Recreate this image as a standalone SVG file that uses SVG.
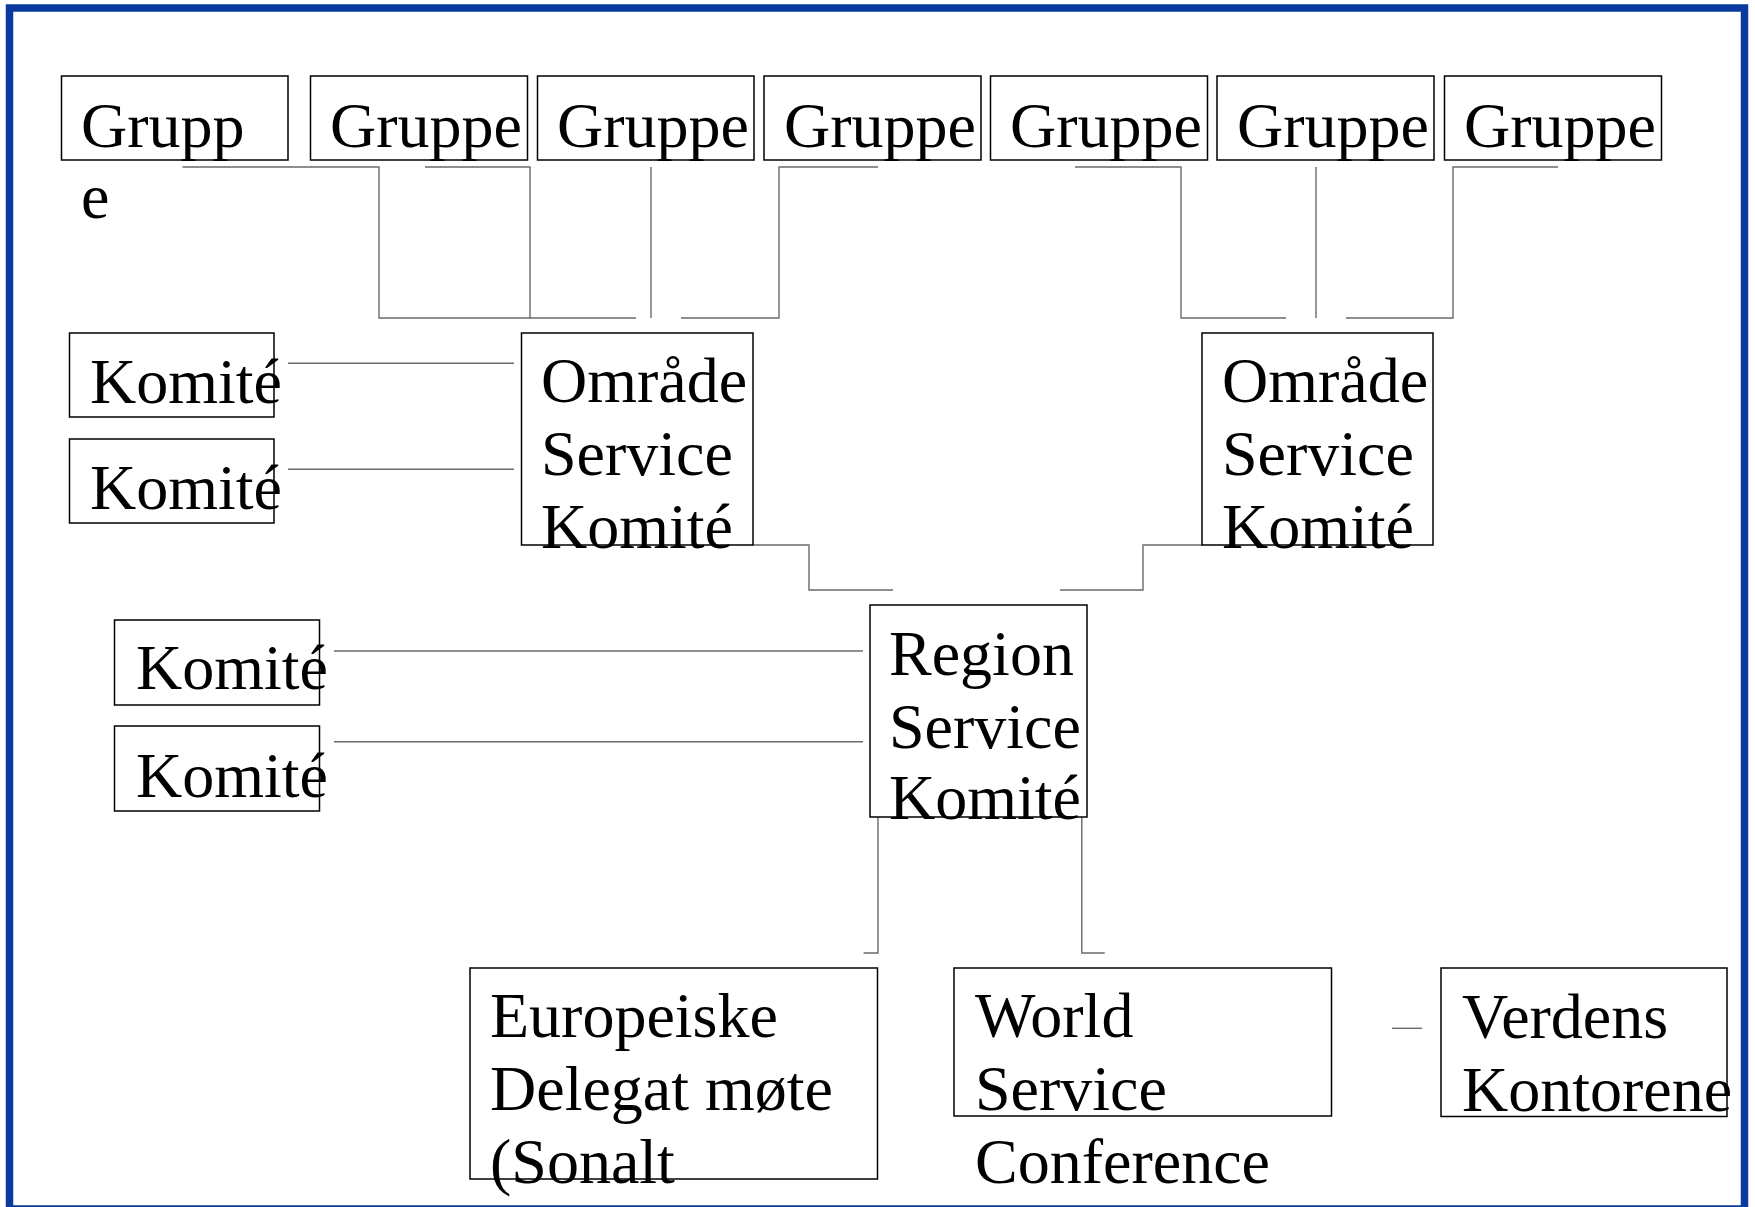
<svg xmlns="http://www.w3.org/2000/svg" width="1755" height="1207" viewBox="0 0 1755 1207">
<style>
.box{fill:none;stroke:#000;stroke-width:1.5}
.t{font-family:"Liberation Serif","Times New Roman",serif;font-size:64px;fill:#000}
.c{fill:none;stroke:#6a6a6a;stroke-width:1.4}
</style>
<rect x="0" y="0" width="1755" height="1207" fill="#fff"/>
<rect x="9.5" y="8" width="1735" height="1201" fill="none" stroke="#0a3a9e" stroke-width="7.5"/>
<g id="connectors" class="c">
<path d="M182.5,167 H379 V318 H636"/>
<path d="M425,167 H530 V318"/>
<path d="M651,167 V318"/>
<path d="M681,318 H779 V167 H878"/>
<path d="M1075,167 H1181 V318 H1286"/>
<path d="M1316,167 V318"/>
<path d="M1346,318 H1453 V167 H1558"/>
<path d="M288,363.3 H514"/>
<path d="M288,469.3 H514"/>
<path d="M753,545 H809 V590 H893"/>
<path d="M1202,545 H1143 V590 H1060"/>
<path d="M334,651 H863"/>
<path d="M334,741.7 H863"/>
<path d="M878,817 V953 H863.6"/>
<path d="M1081.8,817 V953 H1104.7"/>
<path d="M1392,1028.3 H1422"/>
</g>
<g id="gruppe1"><rect class="box" x="61.5" y="76" width="226.5" height="84"/><text class="t" x="81" y="147">Grupp</text><text class="t" x="81" y="218">e</text></g>
<g id="gruppe2"><rect class="box" x="310.5" y="76" width="217" height="84"/><text class="t" x="330" y="147">Gruppe</text></g>
<g id="gruppe3"><rect class="box" x="537.5" y="76" width="216.5" height="84"/><text class="t" x="557" y="147">Gruppe</text></g>
<g id="gruppe4"><rect class="box" x="764" y="76" width="217" height="84"/><text class="t" x="784" y="147">Gruppe</text></g>
<g id="gruppe5"><rect class="box" x="990.5" y="76" width="217" height="84"/><text class="t" x="1010" y="147">Gruppe</text></g>
<g id="gruppe6"><rect class="box" x="1217" y="76" width="217" height="84"/><text class="t" x="1237" y="147">Gruppe</text></g>
<g id="gruppe7"><rect class="box" x="1444.5" y="76" width="217" height="84"/><text class="t" x="1464" y="147">Gruppe</text></g>
<g id="komite1"><rect class="box" x="69.5" y="333" width="204.5" height="84"/><text class="t" x="90" y="403">Komité</text></g>
<g id="komite2"><rect class="box" x="69.5" y="439" width="204.5" height="84"/><text class="t" x="90" y="509">Komité</text></g>
<g id="omrade1"><rect class="box" x="521.5" y="333" width="231.5" height="212"/><text class="t" x="541" y="402">Område</text><text class="t" x="541" y="475">Service</text><text class="t" x="541" y="548">Komité</text></g>
<g id="omrade2"><rect class="box" x="1202" y="333" width="231" height="212"/><text class="t" x="1222" y="402">Område</text><text class="t" x="1222" y="475">Service</text><text class="t" x="1222" y="548">Komité</text></g>
<g id="komite3"><rect class="box" x="114.5" y="620" width="205" height="85"/><text class="t" x="136" y="689">Komité</text></g>
<g id="komite4"><rect class="box" x="114.5" y="726" width="205" height="85"/><text class="t" x="136" y="797">Komité</text></g>
<g id="region"><rect class="box" x="870" y="605" width="217" height="212"/><text class="t" x="889" y="675">Region</text><text class="t" x="889" y="748">Service</text><text class="t" x="889" y="819">Komité</text></g>
<g id="europeiske"><rect class="box" x="470" y="968" width="407.5" height="211"/><text class="t" x="490" y="1037">Europeiske</text><text class="t" x="490" y="1110">Delegat møte</text><text class="t" x="490" y="1183">(Sonalt</text></g>
<g id="world"><rect class="box" x="954" y="968" width="377.5" height="148"/><text class="t" x="975" y="1037">World</text><text class="t" x="975" y="1110">Service</text><text class="t" x="975" y="1183">Conference</text></g>
<g id="verdens"><rect class="box" x="1441" y="968" width="286" height="148.5"/><text class="t" x="1462" y="1038">Verdens</text><text class="t" x="1462" y="1111">Kontorene</text></g>
</svg>
